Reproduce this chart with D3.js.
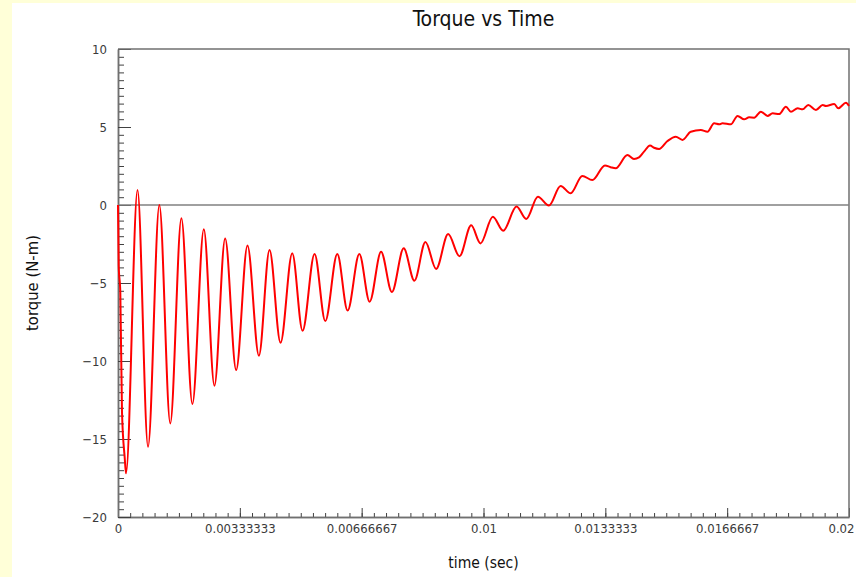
<!DOCTYPE html>
<html>
<head>
<meta charset="utf-8">
<script src="https://cdn.jsdelivr.net/npm/d3@7"></script>
<style>
  html, body { margin: 0; padding: 0; background: #ffffd8; }
  svg { display: block; }
  .axis text { font-family: "DejaVu Sans Condensed", "DejaVu Sans", sans-serif; font-stretch: condensed; font-size: 13px; fill: #3a3a3a; }
  .axis path { stroke: #707070; stroke-width: 1.5px; }
  .axis line { stroke: #404040; }
  .lbl { font-family: "DejaVu Sans Condensed", "DejaVu Sans", sans-serif; font-stretch: condensed; fill: #111; }
</style>
</head>
<body>
<div id="chart"></div>
<script>
"use strict";

// time (s) and torque (N-m)
var timeSec = [
    0, 0.0000192, 0.0000630, 0.0001096, 0.0001836, 0.0002192,
    0.0005342, 0.0008219, 0.0011315, 0.0014301, 0.0017342, 0.0020356,
    0.0023479, 0.0026384, 0.0029315, 0.0032329, 0.0035425, 0.0038548,
    0.0041452, 0.0044466, 0.0047671, 0.0050493, 0.0053781, 0.0056712,
    0.0060000, 0.0062822, 0.0066027, 0.0068849, 0.0071973, 0.0074932,
    0.0078164, 0.0081096, 0.0084110, 0.0087041, 0.0090329, 0.0093425,
    0.0096630, 0.0099178, 0.0102548, 0.0105397, 0.0109041, 0.0111699,
    0.0114877, 0.0117890, 0.0121096, 0.0123836, 0.0127041, 0.0129781,
    0.0133233, 0.0134795, 0.0136164, 0.0139370, 0.0141178, 0.0142548,
    0.0143918, 0.0145562, 0.0146658, 0.0148027, 0.0150329, 0.0152603,
    0.0154438, 0.0156712, 0.0159452, 0.0161288, 0.0163096, 0.0164466,
    0.0165397, 0.0167671, 0.0169507, 0.0171315, 0.0172685, 0.0174055,
    0.0175890, 0.0177726, 0.0179096, 0.0180904, 0.0182740, 0.0184110,
    0.0185945, 0.0187315, 0.0188849, 0.0190959, 0.0192795, 0.0193699,
    0.0195973, 0.0197068, 0.0199178, 0.0200000
];
var torque = [
    0.0, -3.9, -5.6, -13.3, -16.2, -17.2,
    0.96, -15.5, 0.0, -14.0, -0.85, -12.76,
    -1.56, -11.58, -2.14, -10.58, -2.6, -9.66,
    -2.88, -8.83, -3.1, -8.06, -3.14, -7.44,
    -3.14, -6.77, -3.14, -6.2, -3.0, -5.58,
    -2.78, -4.85, -2.37, -4.1, -1.86, -3.29,
    -1.3, -2.46, -0.75, -1.65, -0.1, -0.9,
    0.53, -0.04, 1.22, 0.75, 1.86, 1.6,
    2.54, 2.42, 2.35, 3.2, 2.95, 3.05,
    3.42, 3.82, 3.67, 3.59, 4.1, 4.38,
    4.17, 4.7, 4.8, 4.7, 5.24, 5.17,
    5.24, 5.17, 5.71, 5.49, 5.62, 5.6,
    5.98, 5.71, 5.88, 5.83, 6.3, 5.98,
    6.2, 6.13, 6.41, 6.09, 6.41, 6.35,
    6.47, 6.2, 6.56, 6.35
];

var xTicks = [0, 0.02 / 6, 0.02 / 3, 0.01, 0.04 / 3, 0.05 / 3, 0.02];
var xTickLabels = ["0", "0.00333333", "0.00666667", "0.01", "0.0133333", "0.0166667", "0.02"];
var yTicks = [-20, -15, -10, -5, 0, 5, 10];

var width = 856, height = 577;
var margin = { top: 49, right: 7, bottom: 60, left: 118 };
var plotW = width - margin.left - margin.right;
var plotH = height - margin.top - margin.bottom;

var svg = d3.select("#chart").append("svg")
    .attr("width", width)
    .attr("height", height);

// white panel on the pale yellow page
svg.append("rect")
    .attr("x", 12).attr("y", 3)
    .attr("width", width - 12).attr("height", height - 3)
    .attr("fill", "#ffffff");

var x = d3.scaleLinear().domain([0, 0.02]).range([0, plotW]);
var y = d3.scaleLinear().domain([-20, 10]).range([plotH, 0]);

var g = svg.append("g")
    .attr("transform", "translate(" + margin.left + "," + margin.top + ")");

// minor ticks
var xMinor = d3.range(0, 61).map(function (i) { return i * 0.02 / 60; });
var yMinor = d3.range(0, 61).map(function (i) { return -20 + i * 0.5; });

g.append("g")
    .attr("class", "axis")
    .attr("transform", "translate(0," + plotH + ")")
    .call(d3.axisBottom(x).tickValues(xMinor).tickSize(-4).tickSizeOuter(0).tickFormat(""));

g.append("g")
    .attr("class", "axis")
    .call(d3.axisLeft(y).tickValues(yMinor).tickSize(-6).tickSizeOuter(0).tickFormat(""));

// major ticks with labels
var xAxisG = g.append("g")
    .attr("class", "axis")
    .attr("transform", "translate(0," + plotH + ")")
    .call(d3.axisBottom(x).tickValues(xTicks).tickSize(-9).tickSizeOuter(0).tickPadding(7)
        .tickFormat(function (d, i) { return xTickLabels[i]; }));

// last label sits inside the window like the original
xAxisG.selectAll(".tick text")
    .filter(function (d) { return d === 0.02; })
    .attr("text-anchor", "end")
    .attr("x", 5);

g.append("g")
    .attr("class", "axis")
    .call(d3.axisLeft(y).tickValues(yTicks).tickSize(-13).tickSizeOuter(0).tickPadding(11)
        .tickFormat(d3.format("d")));

// frame top and right
g.append("path")
    .attr("d", "M0,0H" + plotW + "V" + plotH)
    .attr("fill", "none")
    .attr("stroke", "#707070")
    .attr("stroke-width", 1.5);

// zero line
g.append("line")
    .attr("x1", 0).attr("x2", plotW)
    .attr("y1", y(0)).attr("y2", y(0))
    .attr("stroke", "#808080")
    .attr("stroke-width", 1.5);

var line = d3.line()
    .x(function (d, i) { return x(timeSec[i]); })
    .y(function (d) { return y(d); })
    .curve(d3.curveMonotoneX);

g.append("path")
    .datum(torque)
    .attr("fill", "none")
    .attr("stroke", "#ff0000")
    .attr("stroke-width", 2)
    .attr("d", line);

// titles
svg.append("text")
    .attr("class", "lbl")
    .attr("x", margin.left + plotW / 2)
    .attr("y", 26)
    .attr("text-anchor", "middle")
    .style("font-size", "21px")
    .text("Torque vs Time");

svg.append("text")
    .attr("class", "lbl")
    .attr("x", margin.left + plotW / 2)
    .attr("y", 568)
    .attr("text-anchor", "middle")
    .style("font-size", "15.5px")
    .text("time (sec)");

svg.append("text")
    .attr("class", "lbl")
    .attr("transform", "translate(38," + (margin.top + plotH / 2) + ") rotate(-90)")
    .attr("text-anchor", "middle")
    .style("font-size", "16.5px")
    .text("torque (N-m)");
</script>
</body>
</html>
